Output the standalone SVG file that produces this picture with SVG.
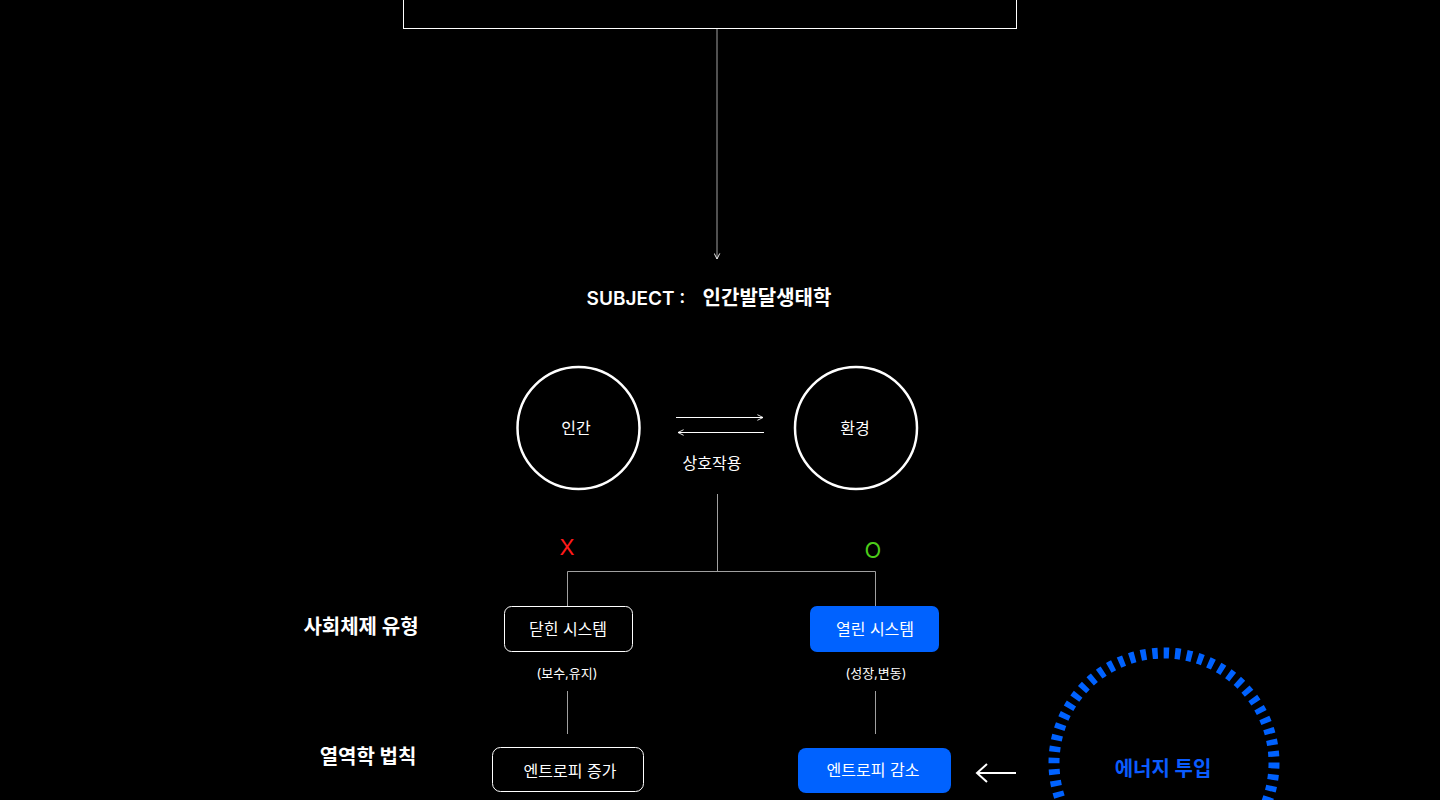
<svg xmlns="http://www.w3.org/2000/svg" width="1440" height="800" viewBox="0 0 1440 800">
<defs>
<style>
text{font-family:"Inter","Noto Sans CJK KR",sans-serif;fill:#fff;text-anchor:middle;dominant-baseline:central}
.ln{stroke:#a0a0a0;stroke-width:1;fill:none}
.wl{stroke:#fff;stroke-width:1;fill:none}
.lbl{font-size:16px}
.sm{font-size:13px}
.hd{font-size:20px;font-weight:700}
.box{fill:none;stroke:#fff;stroke-width:1}
.blue{fill:#0062ff}
</style>
<marker id="ah" viewBox="0 0 10 10" refX="9" refY="5" markerWidth="7" markerHeight="7" orient="auto-start-reverse" markerUnits="userSpaceOnUse">
<path d="M1,1 L9,5 L1,9" fill="none" stroke="#fff" stroke-width="1.3"/>
</marker>
</defs>
<rect width="1440" height="800" fill="#000"/>
<g id="top-box"><rect x="403.5" y="-10" width="613" height="38.5" class="box"/></g>
<g id="connectors">
<line x1="717" y1="29" x2="717" y2="259" class="ln" marker-end="url(#ah)"/>
<line x1="676" y1="417.5" x2="763" y2="417.5" class="wl" marker-end="url(#ah)"/>
<line x1="678" y1="432.5" x2="764" y2="432.5" class="wl" marker-start="url(#ah)"/>
<polyline points="717.5,494 717.5,571.5" class="ln"/>
<polyline points="567.5,606 567.5,571.5 875.5,571.5 875.5,606" class="ln"/>
<line x1="567.5" y1="691" x2="567.5" y2="734" class="ln"/>
<line x1="875.5" y1="691" x2="875.5" y2="734" class="ln"/>
<path d="M1016,773 L977,773 M987,764 L977,773 L987,782" fill="none" stroke="#fff" stroke-width="2"/>
</g>
<g id="title"><text x="636" y="298" style="font-size:19px;font-weight:600">SUBJECT :</text><text x="767" y="298" style="font-size:20px;font-weight:600">인간발달생태학</text></g>
<g id="human"><circle cx="578.5" cy="428" r="61" fill="none" stroke="#fff" stroke-width="2.5"/><text x="576" y="428" class="lbl">인간</text></g>
<g id="env"><circle cx="856" cy="428" r="61" fill="none" stroke="#fff" stroke-width="2.5"/><text x="855" y="428" class="lbl">환경</text></g>
<g id="interaction"><text x="712" y="463" class="lbl">상호작용</text></g>
<g id="x-mark"><text x="567" y="547" style="font-size:22px;fill:#ff1a1a">X</text></g>
<g id="o-mark"><text x="873" y="550" style="font-size:22px;fill:#4ccc1a">O</text></g>
<g id="label-social"><text x="361" y="627" class="hd">사회체제 유형</text></g>
<g id="label-thermo"><text x="368" y="757" class="hd">열역학 법칙</text></g>
<g id="closed-system"><rect x="504.5" y="606.5" width="128" height="45" rx="7" class="box"/><text x="568" y="629" class="lbl">닫힌 시스템</text></g>
<g id="open-system"><rect x="810" y="606" width="129" height="46" rx="7" class="blue"/><text x="875" y="629" class="lbl">열린 시스템</text></g>
<g id="closed-note"><text x="567" y="673" class="sm">(보수,유지)</text></g>
<g id="open-note"><text x="876" y="673" class="sm">(성장,변동)</text></g>
<g id="entropy-up"><rect x="492.5" y="747.5" width="151" height="44" rx="8" class="box"/><text x="570" y="771" class="lbl">엔트로피 증가</text></g>
<g id="entropy-down"><rect x="798" y="748" width="153" height="45" rx="8" class="blue"/><text x="873" y="770" class="lbl">엔트로피 감소</text></g>
<g id="energy"><circle cx="1164" cy="763" r="110" fill="none" stroke="#0062ff" stroke-width="11" stroke-dasharray="5.5 6"/><text x="1163" y="769" style="font-size:20px;font-weight:700;fill:#0a5cff">에너지 투입</text></g>
</svg>
